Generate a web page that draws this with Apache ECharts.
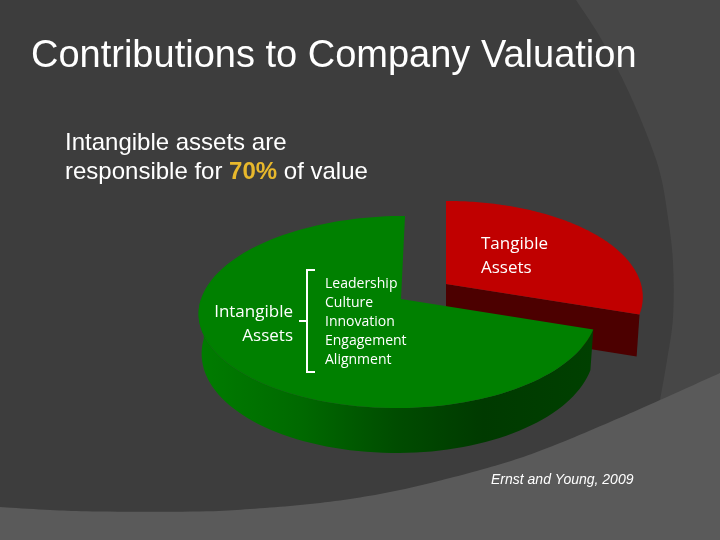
<!DOCTYPE html>
<html><head><meta charset="utf-8">
<style>html,body{margin:0;padding:0;background:#3d3d3d}#c{width:720px;height:540px}</style>
<script src="https://cdn.jsdelivr.net/npm/echarts@6/dist/echarts.min.js"></script>
</head><body><div id="c"></div>
<script>
const categories = ['Tangible Assets', 'Intangible Assets'];
const shares = [30, 70];
const drivers = ['Leadership', 'Culture', 'Innovation', 'Engagement', 'Alignment'];
const titleText = 'Contributions to Company Valuation';
const sourceText = 'Ernst and Young, 2009';

const apexes = [[446, 284], [401, 299]];
const skews = [0, 4];
const PERSP = 0.135, B = 94.3, A_LEFT = 200, A_RIGHT = 195, POLAR = [360, 270], R = 100;

function project(p, i) {
  const u = (p[0] - POLAR[0]) / R, v = (p[1] - POLAR[1]) / R, w = 1 - PERSP * v;
  const a = u < 0 ? A_LEFT : A_RIGHT;
  const dx = a * u / w - skews[i] * v;
  return { x: apexes[i][0] + dx, y: apexes[i][1] + B * v / w, dx, v };
}
function bottom(q, i) {
  const depth = i === 0 ? 42 : 39 + 6 * Math.max(q.v, 0);
  return [apexes[i][0] + q.dx * 0.985, q.y + depth];
}
function renderItem(params, api) {
  const i = params.dataIndex;
  const start = shares.slice(0, i).reduce((a, b) => a + b, 0);
  const end = start + api.value(1);
  const arc = [];
  const n = 120;
  for (let k = 0; k <= n; k++) arc.push(project(api.coord([1, start + (end - start) * k / n]), i));
  const apex = [apexes[i][0], apexes[i][1]];
  const top = [apex].concat(arc.map(q => [q.x, q.y]));
  const front = arc.filter(q => q.v >= 0);
  const wall = front.map(q => [q.x, q.y]).concat(front.slice().reverse().map(q => bottom(q, i)));
  const children = [];
  if (i === 0) {
    const c = arc[n];
    const bc = bottom(c, i);
    children.push({ type: 'polygon', shape: { points: [apex, [c.x, c.y], bc, [apex[0], apex[1] + 42]] }, style: { fill: '#4c0000' } });
  } else {
    children.push({ type: 'polygon', shape: { points: wall }, style: { fill: {
      type: 'linear', global: true, x: 200, y: 0, x2: 593, y2: 0,
      colorStops: [
        { offset: 0, color: '#007c00' }, { offset: 0.25, color: '#006a00' },
        { offset: 0.5, color: '#004c00' }, { offset: 0.72, color: '#003a00' }, { offset: 1, color: '#004000' }
      ] } } });
  }
  children.push({ type: 'polygon', shape: { points: top }, style: { fill: i === 0 ? '#c00000' : '#008000' } });
  return { type: 'group', children };
}
function spline(pts, closeTail) {
  const out = [];
  for (let i = 0; i < pts.length - 1; i++) {
    const p0 = pts[Math.max(i - 1, 0)], p1 = pts[i], p2 = pts[i + 1], p3 = pts[Math.min(i + 2, pts.length - 1)];
    for (let t = 0; t < 1; t += 0.1) {
      const t2 = t * t, t3 = t2 * t;
      out.push([0, 1].map(d => 0.5 * (2 * p1[d] + (p2[d] - p0[d]) * t + (2 * p0[d] - 5 * p1[d] + 4 * p2[d] - p3[d]) * t2 + (3 * p1[d] - p0[d] - 3 * p2[d] + p3[d]) * t3)));
    }
  }
  out.push(pts[pts.length - 1]);
  return out.concat(closeTail);
}
const bandEdge = [[576, 0], [600, 37], [624, 82], [645, 130], [660, 173], [668, 218], [673, 263], [673, 317], [667, 360], [660, 400]];
const floorEdge = [[0, 507], [50, 510], [100, 511.5], [200, 511.5], [250, 509], [300, 505], [350, 499], [400, 490], [450, 478], [480, 470], [520, 458], [560, 443], [610, 422], [660, 400], [720, 373]];
const txt = (x, y, text, size, extra) => ({ type: 'text', x, y, z: 100, style: Object.assign({ text, fill: '#fff', font: size + 'px "Liberation Sans"', textVerticalAlign: 'middle' }, extra || {}) });
const hum = '"Open Sans"';
const graphics = [
  { type: 'polygon', z: -3, shape: { points: spline(bandEdge, [[720, 400], [720, 0]]) }, style: { fill: '#474747' } },
  { type: 'polygon', z: -2, shape: { points: spline(floorEdge, [[720, 540], [0, 540]]) }, style: { fill: '#5a5a5a' } },
  txt(31, 57, titleText, 38),
  txt(65, 143, 'Intangible assets are', 24),
  { type: 'text', x: 65, y: 172, z: 100, style: { text: 'responsible for {h|70%} of value', fill: '#fff', font: '24px "Liberation Sans"', verticalAlign: 'middle', rich: { h: { fill: '#e8b82c', font: 'bold 24px "Liberation Sans"' } } } },
  txt(293, 312, 'Intangible', 17, { font: '17px ' + hum, textAlign: 'right' }),
  txt(293, 336, 'Assets', 17, { font: '17px ' + hum, textAlign: 'right' }),
  txt(481, 244, 'Tangible', 17, { font: '17px ' + hum }),
  txt(481, 268, 'Assets', 17, { font: '17px ' + hum }),
  txt(491, 480, sourceText, 14, { font: 'italic 14px "Liberation Sans"' }),
  { type: 'polyline', z: 100, shape: { points: [[315, 270], [307, 270], [307, 372], [315, 372]] }, style: { stroke: '#fff', lineWidth: 2, fill: null } },
  { type: 'line', z: 100, shape: { x1: 299, y1: 321, x2: 307, y2: 321 }, style: { stroke: '#fff', lineWidth: 2 } }
].concat(drivers.map((d, i) => txt(325, 284 + i * 19, d, 14, { font: '14px ' + hum })));

const chart = echarts.init(document.getElementById('c'), null, { renderer: 'canvas' });
chart.setOption({
  backgroundColor: '#3d3d3d',
  animation: false,
  polar: { center: POLAR, radius: R },
  angleAxis: { show: false, type: 'value', min: 0, max: 100, startAngle: 90, clockwise: true },
  radiusAxis: { show: false, type: 'value', min: 0, max: 1 },
  graphic: graphics,
  series: [{
    type: 'custom', coordinateSystem: 'polar', silent: true, z: 2,
    data: categories.map((c, i) => ({ name: c, value: [1, shares[i]] })),
    encode: { radius: 0, angle: 1 },
    clip: false,
    renderItem
  }]
});
</script></body></html>
